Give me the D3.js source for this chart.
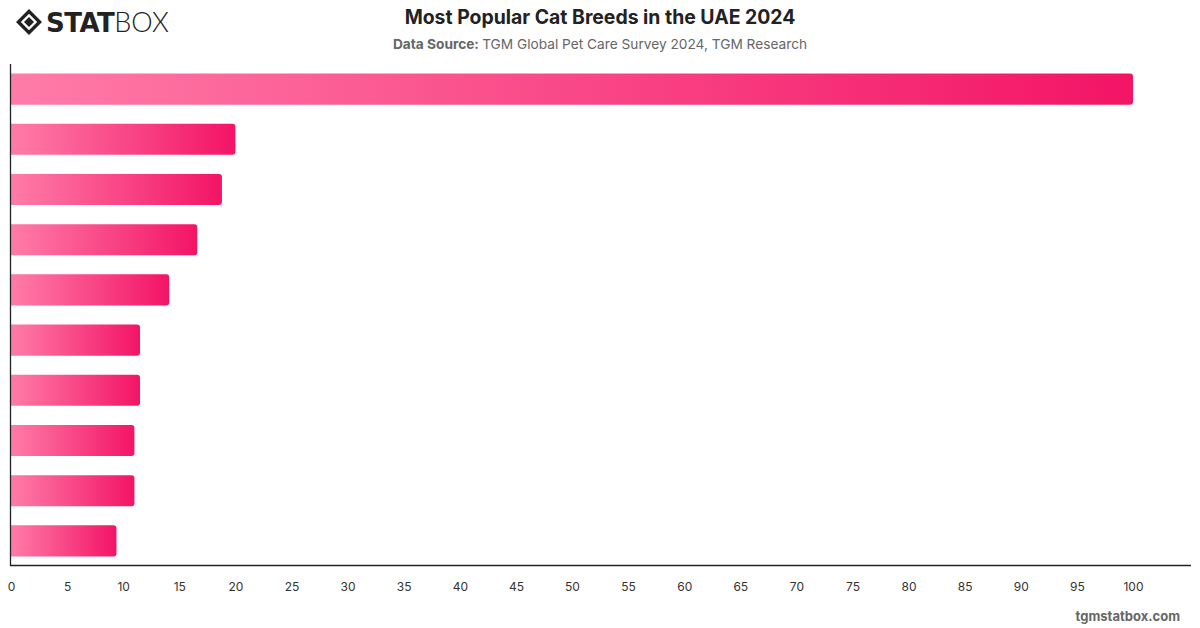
<!DOCTYPE html>
<html>
<head>
<meta charset="utf-8">
<script src="https://cdn.jsdelivr.net/npm/d3@7"></script>
<style>
  body { margin: 0; background: #fff; }
  svg { display: block; font-family: Inter, "Helvetica Neue", Arial, sans-serif; }
</style>
</head>
<body>
<svg id="chart" width="1200" height="628"></svg>
<script>
// breeds (labels are not shown in the original picture)
const breeds = ["Persian", "British Shorthair", "Siamese", "Maine Coon", "Ragdoll",
                "Bengal", "Scottish Fold", "Sphynx", "Exotic Shorthair", "Himalayan"];
const shares = [100, 20, 18.8, 16.6, 14.1, 11.5, 11.5, 11, 11, 9.4];
const xTicks = [0, 5, 10, 15, 20, 25, 30, 35, 40, 45, 50, 55, 60, 65, 70, 75, 80, 85, 90, 95, 100];

let svg = d3.select("#chart");

let margin = {top: 64, right: 10, bottom: 63, left: 11};
let width = 1200 - margin.left - margin.right;
let height = 628 - margin.top - margin.bottom;

let defs = svg.append("defs");
let grad = defs.append("linearGradient")
    .attr("id", "barGrad")
    .attr("x1", "0%").attr("x2", "100%")
    .attr("y1", "0%").attr("y2", "0%");
grad.append("stop").attr("offset", "0%").attr("stop-color", "#ff7ca8");
grad.append("stop").attr("offset", "100%").attr("stop-color", "#f31466");

// header
let logo = svg.append("g").attr("transform", "translate(16,9)");
logo.append("path")
    .attr("d", "M13,0 L26,13 L13,26 L0,13 Z M13,4.8 L4.8,13 L13,21.2 L21.2,13 Z")
    .attr("fill", "#222").attr("fill-rule", "evenodd");
logo.append("path")
    .attr("d", "M13,8 L18,13 L13,18 L8,13 Z")
    .attr("fill", "#222");
logo.append("text")
    .attr("x", 30).attr("y", 23)
    .attr("font-size", 26).attr("fill", "#222")
    .attr("font-family", "'DejaVu Sans', sans-serif")
    .call(t => {
        t.append("tspan").attr("font-weight", 900).attr("letter-spacing", -0.5).text("STAT");
        t.append("tspan").attr("font-weight", 300).attr("font-family", "Lato, sans-serif").attr("font-size", 27).text("BOX");
    });

svg.append("text")
    .attr("x", 600).attr("y", 24)
    .attr("text-anchor", "middle")
    .attr("font-size", 19.4).attr("font-weight", 700).attr("fill", "#222")
    .text("Most Popular Cat Breeds in the UAE 2024");

svg.append("text")
    .attr("x", 600).attr("y", 49)
    .attr("text-anchor", "middle")
    .attr("font-size", 13.7).attr("fill", "#666")
    .call(t => {
        t.append("tspan").attr("font-weight", 700).text("Data Source: ");
        t.append("tspan").text("TGM Global Pet Care Survey 2024, TGM Research");
    });

svg.append("text")
    .attr("x", 1180).attr("y", 621)
    .attr("text-anchor", "end")
    .attr("font-size", 13).attr("font-weight", 700).attr("fill", "#666")
    .text("tgmstatbox.com");

let g = svg.append("g").attr("transform", "translate(" + margin.left + "," + margin.top + ")");

let x = d3.scaleLinear()
    .domain([0, 100])
    .range([0, 1122]);

let y = d3.scaleBand()
    .domain(breeds)
    .range([0, height + 1])
    .paddingInner(0.38)
    .paddingOuter(0.19);

let r = 3;
g.append("g")
    .selectAll("path")
    .data(breeds)
    .enter().append("path")
    .attr("d", (d, i) => {
        let w = x(shares[i]);
        let y0 = y(d);
        let h = y.bandwidth();
        return "M0," + y0 + " H" + (w - r) + " Q" + w + "," + y0 + " " + w + "," + (y0 + r) +
               " V" + (y0 + h - r) + " Q" + w + "," + (y0 + h) + " " + (w - r) + "," + (y0 + h) +
               " H0 Z";
    })
    .attr("fill", "url(#barGrad)");

// axes
g.append("line")
    .attr("x1", -0.5).attr("x2", -0.5)
    .attr("y1", 0).attr("y2", height + 1)
    .attr("stroke", "#222").attr("stroke-width", 1.3);

g.append("line")
    .attr("x1", -1).attr("x2", width + 1)
    .attr("y1", height + 0.5).attr("y2", height + 0.5)
    .attr("stroke", "#222").attr("stroke-width", 1.3);

let xAxis = g.append("g")
    .attr("transform", "translate(0," + height + ")")
    .call(d3.axisBottom(x).tickValues(xTicks).tickSize(0).tickPadding(17));
xAxis.select(".domain").remove();
xAxis.selectAll("text")
    .attr("font-size", 12).attr("fill", "#333")
    .attr("font-family", "Inter, 'Helvetica Neue', Arial, sans-serif")
    .attr("dx", 0);
</script>
</body>
</html>
